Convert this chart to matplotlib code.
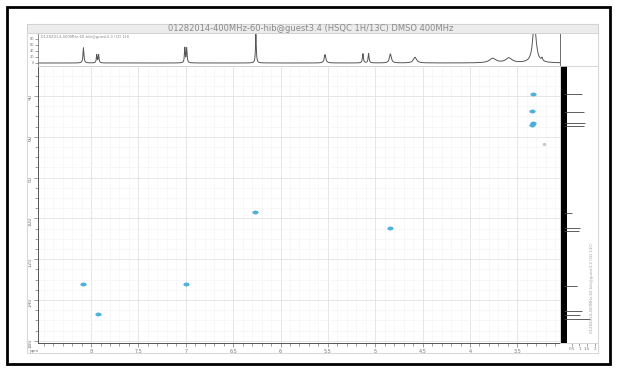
import numpy as np
import matplotlib
matplotlib.use("Agg")
from matplotlib import pyplot as plt
from matplotlib.patches import Rectangle
from matplotlib.path import Path

# 1D 1H spectrum (top trace): peak position ppm, height, half width
h_pos = [8.08, 7.94, 7.92, 7.01, 6.99, 6.26, 5.53, 5.13, 5.07, 4.84, 4.58, 3.76, 3.59, 3.32, 3.24]
h_height = [0.51, 0.27, 0.27, 0.50, 0.50, 0.96, 0.28, 0.31, 0.31, 0.30, 0.19, 0.15, 0.16, 1.30, 0.10]
h_width = [0.006, 0.005, 0.005, 0.005, 0.005, 0.005, 0.010, 0.006, 0.006, 0.012, 0.020, 0.040, 0.040, 0.022, 0.008]

# 1D 13C projection (right trace): shift ppm, intensity
c_pos = [39.0, 47.8, 53.2, 54.7, 97.4, 104.7, 106.2, 133.1, 145.4, 147.4, 149.3]
c_int = [1.16, 1.29, 1.35, 1.30, 0.52, 1.03, 0.98, 0.84, 1.16, 1.03, 1.68]

# HSQC cross peaks (1H ppm, 13C ppm)
hsqc_h = [8.08, 7.93, 7.00, 6.27, 4.84, 3.33, 3.35, 3.34, 3.35]
hsqc_c = [132.2, 146.9, 132.2, 96.9, 104.7, 39.0, 47.4, 53.0, 54.4]

title = "01282014-400MHz-60-hib@guest3.4 (HSQC 1H/13C) DMSO 400MHz"
label_1h = "01282014-400MHz-60-hib@guest3.3 (1D 1H)"
label_13c = "01282014-400MHz-60-hib@guest3.2 (1D 13C)"

W, H = 617, 371
fig = plt.figure(figsize=(W / 100, H / 100), dpi=100)


def box(x0, y0, x1, y1):
    # pixel box -> figure fraction [left, bottom, width, height]
    return [x0 / W, 1 - y1 / H, (x1 - x0) / W, (y1 - y0) / H]


# frames
fig.patches.append(Rectangle((7 / W, 1 - 364 / H), 603 / W, 357 / H, transform=fig.transFigure,
                             fill=False, edgecolor="black", linewidth=2.0))
fig.patches.append(Rectangle((27 / W, 1 - 353 / H), 571 / W, 329 / H, transform=fig.transFigure,
                             fill=False, edgecolor="#d9d9d9", linewidth=0.8))
fig.patches.append(Rectangle((27 / W, 1 - 33 / H), 571 / W, 9 / H, transform=fig.transFigure,
                             facecolor="#ececec", edgecolor="#d0d0d0", linewidth=0.6))
fig.text(311 / W, 1 - 28.5 / H, title, ha="center", va="center", fontsize=6, color="#8a8a8a")

xlim = (8.56, 3.05)
ylim = (161.1, 25.3)
grid_minor = dict(color="#f0f0f0", linewidth=0.5, linestyle=(0, (2, 1)))
grid_major = dict(color="#e2e2e2", linewidth=0.6)
tick_col = "#777777"

# main 2D panel
ax = fig.add_axes(box(38, 66, 560, 343))
ax.set_xlim(*xlim)
ax.set_ylim(*ylim)
ax.set_xticks(np.arange(8.0, 3.4, -0.5))
ax.set_xticklabels(["8", "7.5", "7", "6.5", "6", "5.5", "5", "4.5", "4", "3.5"])
ax.set_xticks(np.arange(8.5, 3.0, -0.1), minor=True)
ax.set_yticks(np.arange(40, 161, 20))
ax.set_yticks(np.arange(30, 161, 5), minor=True)
ax.tick_params(which="both", labelsize=3.5, colors=tick_col, length=2, width=0.5, pad=1)
ax.tick_params(axis="y", which="major", labelrotation=90, length=3)
ax.tick_params(axis="x", which="major", length=3)
ax.grid(which="minor", **grid_minor)
ax.grid(which="major", **grid_major)
ax.set_axisbelow(True)
for s in ["top", "right"]:
    ax.spines[s].set_color("#d0d0d0")
    ax.spines[s].set_linewidth(0.6)
for s in ["left", "bottom"]:
    ax.spines[s].set_color("#555555")
    ax.spines[s].set_linewidth(0.7)

t = np.linspace(0, 2 * np.pi, 40)
ell = Path(np.column_stack([1.7 * np.cos(t), np.sin(t)]))
ax.scatter(hsqc_h, hsqc_c, s=16, marker=ell, color="#4db3e0", edgecolor="#3a9cd0", linewidths=0.3, zorder=3)
ax.scatter([3.22], [63.5], s=2, color="#c8c8c8", zorder=3)
fig.text(34 / W, 1 - 351 / H, "ppm", fontsize=3, color=tick_col, ha="center", va="center")

# top 1D 1H trace
axt = fig.add_axes(box(38, 33, 560, 66))
x = np.linspace(xlim[1], xlim[0], 4000)
y = np.zeros_like(x)
for p, hgt, w in zip(h_pos, h_height, h_width):
    y += hgt * w ** 2 / ((x - p) ** 2 + w ** 2)
axt.plot(x, y, color="#555555", linewidth=0.7)
axt.set_xlim(*xlim)
axt.set_ylim(-0.1, 1.0)
axt.set_xticks([])
axt.set_yticks([0, 0.2, 0.4, 0.6, 0.8])
axt.set_yticklabels(["0", "20", "40", "60", "80"])
axt.tick_params(labelsize=2.5, colors=tick_col, length=2, width=0.5, pad=1)
axt.text(0.005, 0.93, label_1h, transform=axt.transAxes, fontsize=2.8, color="#8a8a8a", va="top")
for s in axt.spines.values():
    s.set_color("#d0d0d0")
    s.set_linewidth(0.6)
axt.spines["left"].set_color("#777777")
axt.spines["right"].set_color("#555555")

# right 1D 13C projection
axr = fig.add_axes(box(560, 66, 598, 343))
axr.set_xlim(-0.25, 2.2)
axr.set_ylim(*ylim)
axr.fill_betweenx([ylim[1], ylim[0]], -0.2, 0.17, color="black", linewidth=0)
axr.hlines(c_pos, 0, c_int, color="#444444", linewidth=0.6)
axr.set_yticks([])
axr.set_xticks([0.5, 1, 1.5, 2])
axr.set_xticklabels(["0.5", "1", "1.5", "2"])
axr.tick_params(labelsize=3, colors=tick_col, length=2, width=0.5, pad=1)
axr.text(0.83, 0.2, label_13c, transform=axr.transAxes, rotation=90, fontsize=2.8,
         color="#9a9a9a", ha="center", va="center")
for s in axr.spines.values():
    s.set_color("#d0d0d0")
    s.set_linewidth(0.6)

fig.savefig("out.png", dpi=100)
